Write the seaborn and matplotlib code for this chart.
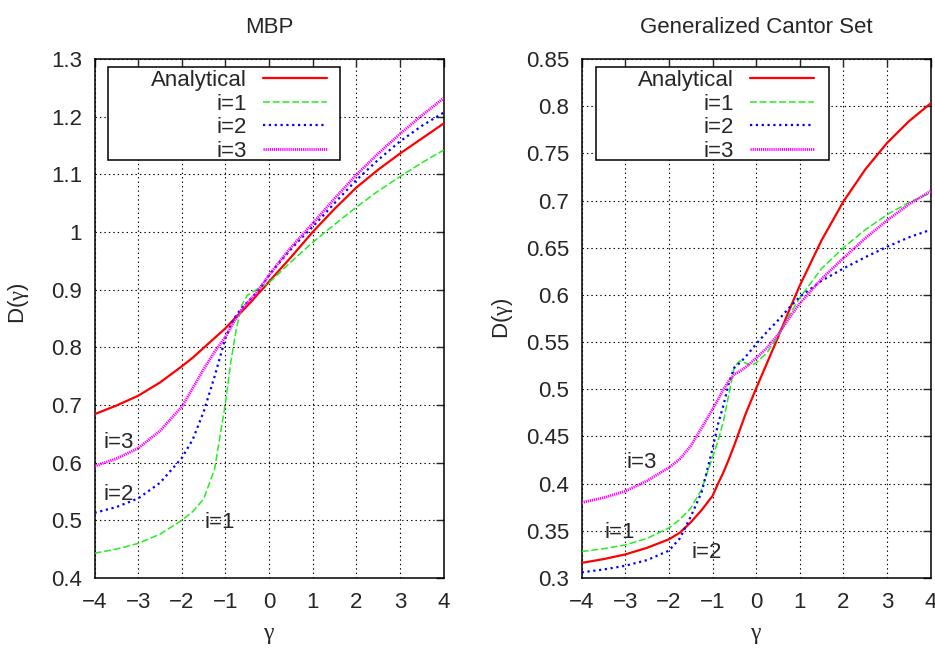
import matplotlib
matplotlib.use("Agg")
import matplotlib.pyplot as plt
from matplotlib.patches import Rectangle
from matplotlib.ticker import FuncFormatter, MultipleLocator
import seaborn as sns
import pandas as pd


GAMMA = [-4, -3.5, -3, -2.5, -2, -1.75, -1.5, -1.25, -1, -0.875, -0.75,
         -0.625, -0.5, -0.375, -0.25, -0.125, 0, 0.25, 0.5, 0.75, 1,
         1.5, 2, 2.5, 3, 3.5, 4]

# MBP panel
MBP_ANALYTICAL = [0.684, 0.699, 0.716, 0.739, 0.767, 0.782, 0.799, 0.816,
                  0.833, 0.843, 0.853, 0.862, 0.872, 0.882, 0.893, 0.903,
                  0.914, 0.935, 0.956, 0.978, 1.000, 1.040, 1.077, 1.108,
                  1.136, 1.162, 1.188]
MBP_I1 = [0.443, 0.450, 0.460, 0.476, 0.500, 0.515, 0.537, 0.588, 0.703,
          0.775, 0.832, 0.873, 0.890, 0.896, 0.902, 0.907, 0.912, 0.930,
          0.948, 0.965, 0.982, 1.013, 1.043, 1.071, 1.096, 1.120, 1.142]
MBP_I2 = [0.513, 0.523, 0.538, 0.565, 0.608, 0.640, 0.688, 0.749, 0.816,
          0.839, 0.856, 0.868, 0.878, 0.888, 0.898, 0.911, 0.925, 0.948,
          0.970, 0.990, 1.009, 1.050, 1.090, 1.125, 1.157, 1.184, 1.207]
MBP_I3 = [0.594, 0.607, 0.625, 0.655, 0.697, 0.729, 0.762, 0.792, 0.818,
          0.835, 0.851, 0.866, 0.877, 0.887, 0.899, 0.912, 0.925, 0.950,
          0.973, 0.994, 1.015, 1.058, 1.099, 1.136, 1.170, 1.202, 1.232]

# Generalized Cantor set panel
GCS_ANALYTICAL = [0.316, 0.320, 0.325, 0.332, 0.341, 0.348, 0.359, 0.372,
                  0.387, 0.400, 0.412, 0.426, 0.441, 0.457, 0.473, 0.487,
                  0.501, 0.528, 0.555, 0.583, 0.610, 0.658, 0.699, 0.733,
                  0.761, 0.784, 0.803]
GCS_I1 = [0.328, 0.331, 0.335, 0.342, 0.353, 0.362, 0.374, 0.394, 0.428,
          0.445, 0.466, 0.495, 0.524, 0.530, 0.528, 0.525, 0.528, 0.539,
          0.556, 0.578, 0.597, 0.628, 0.650, 0.669, 0.685, 0.698, 0.708]
GCS_I2 = [0.306, 0.309, 0.313, 0.319, 0.329, 0.342, 0.365, 0.391, 0.437,
          0.463, 0.483, 0.507, 0.523, 0.528, 0.534, 0.541, 0.548, 0.561,
          0.573, 0.586, 0.598, 0.615, 0.628, 0.640, 0.651, 0.661, 0.669]
GCS_I3 = [0.380, 0.385, 0.392, 0.403, 0.417, 0.426, 0.440, 0.459, 0.479,
          0.489, 0.500, 0.509, 0.516, 0.519, 0.523, 0.528, 0.533, 0.544,
          0.558, 0.575, 0.591, 0.617, 0.639, 0.660, 0.679, 0.696, 0.710]

SERIES = ["Analytical", "i=1", "i=2", "i=3"]
COLORS = ["#ff0000", "#22ee22", "#0000ff", "#ff00ff"]
STYLES = ["-", (0, (5, 2)), (0, (1.6, 2.6)), (0, (0.9, 0.6))]
WIDTHS = [1.6, 1.1, 1.6, 2.0]

FS = 16


def build_frame(curves):
    rows = []
    for name, values in zip(SERIES, curves):
        for g, d in zip(GAMMA, values):
            rows.append({"gamma": g, "D": d, "serie": name})
    return pd.DataFrame(rows)


def draw_panel(ax, df, title, ylim, ystep, inline, legend_box, legend_anchor):
    for name, color, ls, lw in zip(SERIES, COLORS, STYLES, WIDTHS):
        sns.lineplot(
            data=df[df["serie"] == name],
            x="gamma",
            y="D",
            ax=ax,
            color=color,
            linestyle=ls,
            linewidth=lw,
            label=name,
            legend=False,
            errorbar=None,
            zorder=3
        )

    ax.set_xlim(-4, 4)
    ax.set_ylim(*ylim)
    ax.xaxis.set_major_locator(MultipleLocator(1))
    ax.yaxis.set_major_locator(MultipleLocator(ystep))
    ax.yaxis.set_major_formatter(FuncFormatter(lambda v, _: f"{v:g}"))
    ax.set_axisbelow(True)
    ax.grid(True, color="black", linestyle=(0, (1, 2.2)), linewidth=0.8)
    ax.tick_params(direction="in", length=5.5, width=1, top=True,
                   right=True, labelsize=FS)
    ax.tick_params(axis="x", pad=10)
    ax.tick_params(axis="y", pad=9)
    for sp in ax.spines.values():
        sp.set_linewidth(1.1)
        sp.set_color("black")

    ax.set_title(title, fontsize=FS, pad=19)
    ax.set_xlabel(r"$\gamma$", fontsize=FS + 1)
    ax.set_ylabel(r"D($\gamma$)", fontsize=FS)
    ax.xaxis.set_label_coords(0.5, -0.088)

    for txt, x, y in inline:
        ax.text(x, y, txt, fontsize=FS, ha="left", va="baseline", zorder=4)

    x0, y0, w, h = legend_box
    ax.add_patch(Rectangle((x0, y0), w, h, transform=ax.transAxes,
                           facecolor="white", edgecolor="black",
                           linewidth=1.1, zorder=4.5))
    ax.legend(
        loc="upper right",
        bbox_to_anchor=legend_anchor,
        frameon=False,
        markerfirst=False,
        fontsize=FS,
        handlelength=2.88,
        handletextpad=0.72,
        labelspacing=0.12,
        borderpad=0,
        borderaxespad=0
    )


sns.set_theme(style="white")
plt.rcParams["font.family"] = ["Liberation Sans", "DejaVu Sans"]
plt.rcParams["mathtext.fontset"] = "custom"
plt.rcParams["mathtext.rm"] = "Liberation Serif"
plt.rcParams["mathtext.default"] = "rm"
plt.rcParams["lines.scale_dashes"] = False

fig = plt.figure(figsize=(9.35, 6.49), dpi=100)
ax1 = fig.add_axes([0.1011, 0.1094, 0.3733, 0.7997])
ax2 = fig.add_axes([0.6221, 0.1094, 0.3733, 0.7997])

draw_panel(
    ax1,
    build_frame([MBP_ANALYTICAL, MBP_I1, MBP_I2, MBP_I3]),
    "MBP",
    (0.4, 1.3),
    0.1,
    [("i=3", -3.8, 0.625), ("i=2", -3.8, 0.535), ("i=1", -1.47, 0.487)],
    (0.0374, 0.8054, 0.6667, 0.1792),
    (0.6667, 0.979)
)
ax1.yaxis.set_label_coords(-0.181, 0.53)

draw_panel(
    ax2,
    build_frame([GCS_ANALYTICAL, GCS_I1, GCS_I2, GCS_I3]),
    "Generalized Cantor Set",
    (0.3, 0.85),
    0.05,
    [("i=3", -2.98, 0.4165), ("i=1", -3.48, 0.3424), ("i=2", -1.49, 0.3212)],
    (0.0401, 0.8054, 0.6676, 0.1792),
    (0.665, 0.979)
)
ax2.yaxis.set_label_coords(-0.19, 0.50)

fig.savefig("out.png", dpi=100)
